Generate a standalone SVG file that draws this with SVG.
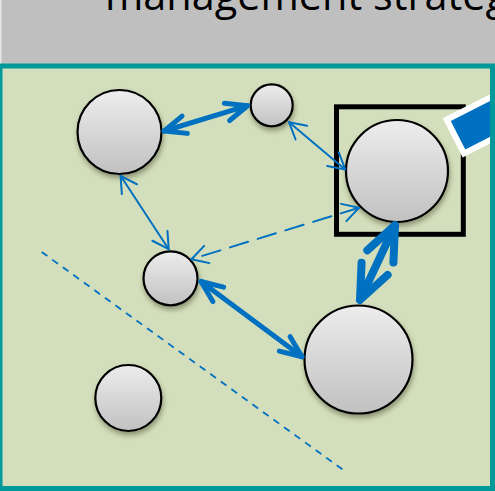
<svg xmlns="http://www.w3.org/2000/svg" width="495" height="491" viewBox="0 0 495 491">
  <style>
    .ball { fill: url(#ballFill); stroke: #000; stroke-width: 2.2; filter: url(#softShadow); }
    .thick { fill: none; stroke: #0070C0; stroke-linecap: round; marker-start: url(#headThick); marker-end: url(#headThick); }
    .thin { fill: none; stroke: #0070C0; stroke-width: 2; stroke-linecap: round; marker-start: url(#headThin); marker-end: url(#headThin); }
    .title { font-family: "Open Sans", "Noto Sans", "Liberation Sans", sans-serif; font-size: 42px; fill: #000; }
  </style>
  <defs>
    <linearGradient id="ballFill" x1="0" y1="0" x2="0" y2="1">
      <stop offset="0" stop-color="#EDEDED"/>
      <stop offset="1" stop-color="#C1C1C1"/>
    </linearGradient>
    <filter id="softShadow" x="-30%" y="-30%" width="160%" height="170%">
      <feDropShadow dx="1" dy="3.5" stdDeviation="2.5" flood-color="#3A3A22" flood-opacity="0.45"/>
    </filter>
    <!-- open chevron head, sized by the line width -->
    <marker id="headThick" markerUnits="strokeWidth" refX="0" refY="0" orient="auto-start-reverse" overflow="visible">
      <path d="M-4.3,-1.8 L0,0 L-4.3,1.8" fill="none" stroke="#0070C0" stroke-width="1" stroke-linecap="round" stroke-linejoin="round" stroke-dasharray="none"/>
    </marker>
    <!-- open chevron head for the thin links -->
    <marker id="headThin" markerUnits="userSpaceOnUse" refX="0" refY="0" orient="auto-start-reverse" overflow="visible">
      <path d="M-16,-9 L0,0 L-16,9" fill="none" stroke="#0070C0" stroke-width="2" stroke-linecap="round" stroke-linejoin="round" stroke-dasharray="none"/>
    </marker>
  </defs>

  <!-- header band -->
  <rect x="0" y="0" width="495" height="70" fill="#E6E6E6"/>
  <rect x="1.5" y="0" width="494" height="70" fill="#BFBFBF"/>
  <text class="title" x="105" y="10" textLength="403" lengthAdjust="spacingAndGlyphs">management strateg</text>

  <!-- panel -->
  <rect x="0" y="66" width="492.5" height="422.5" fill="#D3DFBC"/>

  <!-- separator -->
  <line x1="41.7" y1="252" x2="343.3" y2="470" stroke="#0070C0" stroke-width="1.8" stroke-dasharray="7 6"/>

  <g id="node-a"><circle class="ball" cx="119.5" cy="132" r="42"/></g>
  <g id="node-b"><circle class="ball" cx="271.7" cy="105.3" r="21"/></g>
  <g id="node-c">
    <rect x="336.5" y="106.8" width="126.8" height="127.5" fill="none" stroke="#000" stroke-width="5"/>
    <circle class="ball" cx="397" cy="171" r="51"/>
  </g>
  <g id="node-d"><circle class="ball" cx="170.5" cy="278.3" r="27"/></g>
  <g id="node-e"><circle class="ball" cx="358.5" cy="359.5" r="54"/></g>
  <g id="node-f"><circle class="ball" cx="128.3" cy="398" r="33"/></g>

  <!-- callout tab -->
  <g id="tab" transform="translate(442.7,118.3) rotate(-27)">
    <rect x="3" y="3" width="100" height="38" fill="#0070C0" stroke="#FFFFFF" stroke-width="6"/>
  </g>

  <g id="connectors">
    <line class="thick" stroke-width="5" x1="164.1" y1="131" x2="247.6" y2="105.7"/>
    <line class="thin" x1="120.6" y1="175.8" x2="168.7" y2="249.2"/>
    <line class="thin" x1="289.1" y1="122.3" x2="345.2" y2="169.4"/>
    <line class="thin" stroke-dasharray="19 10" stroke-linecap="butt" x1="359" y1="207.8" x2="191.5" y2="259.2"/>
    <line class="thick" stroke-width="5" x1="201" y1="281.5" x2="302" y2="356.8"/>
    <line class="thick" stroke-width="8" x1="395" y1="225.3" x2="360" y2="299.9"/>
  </g>

  <!-- panel border -->
  <rect x="0" y="66" width="492.5" height="422.5" fill="none" stroke="#009999" stroke-width="5"/>
</svg>
